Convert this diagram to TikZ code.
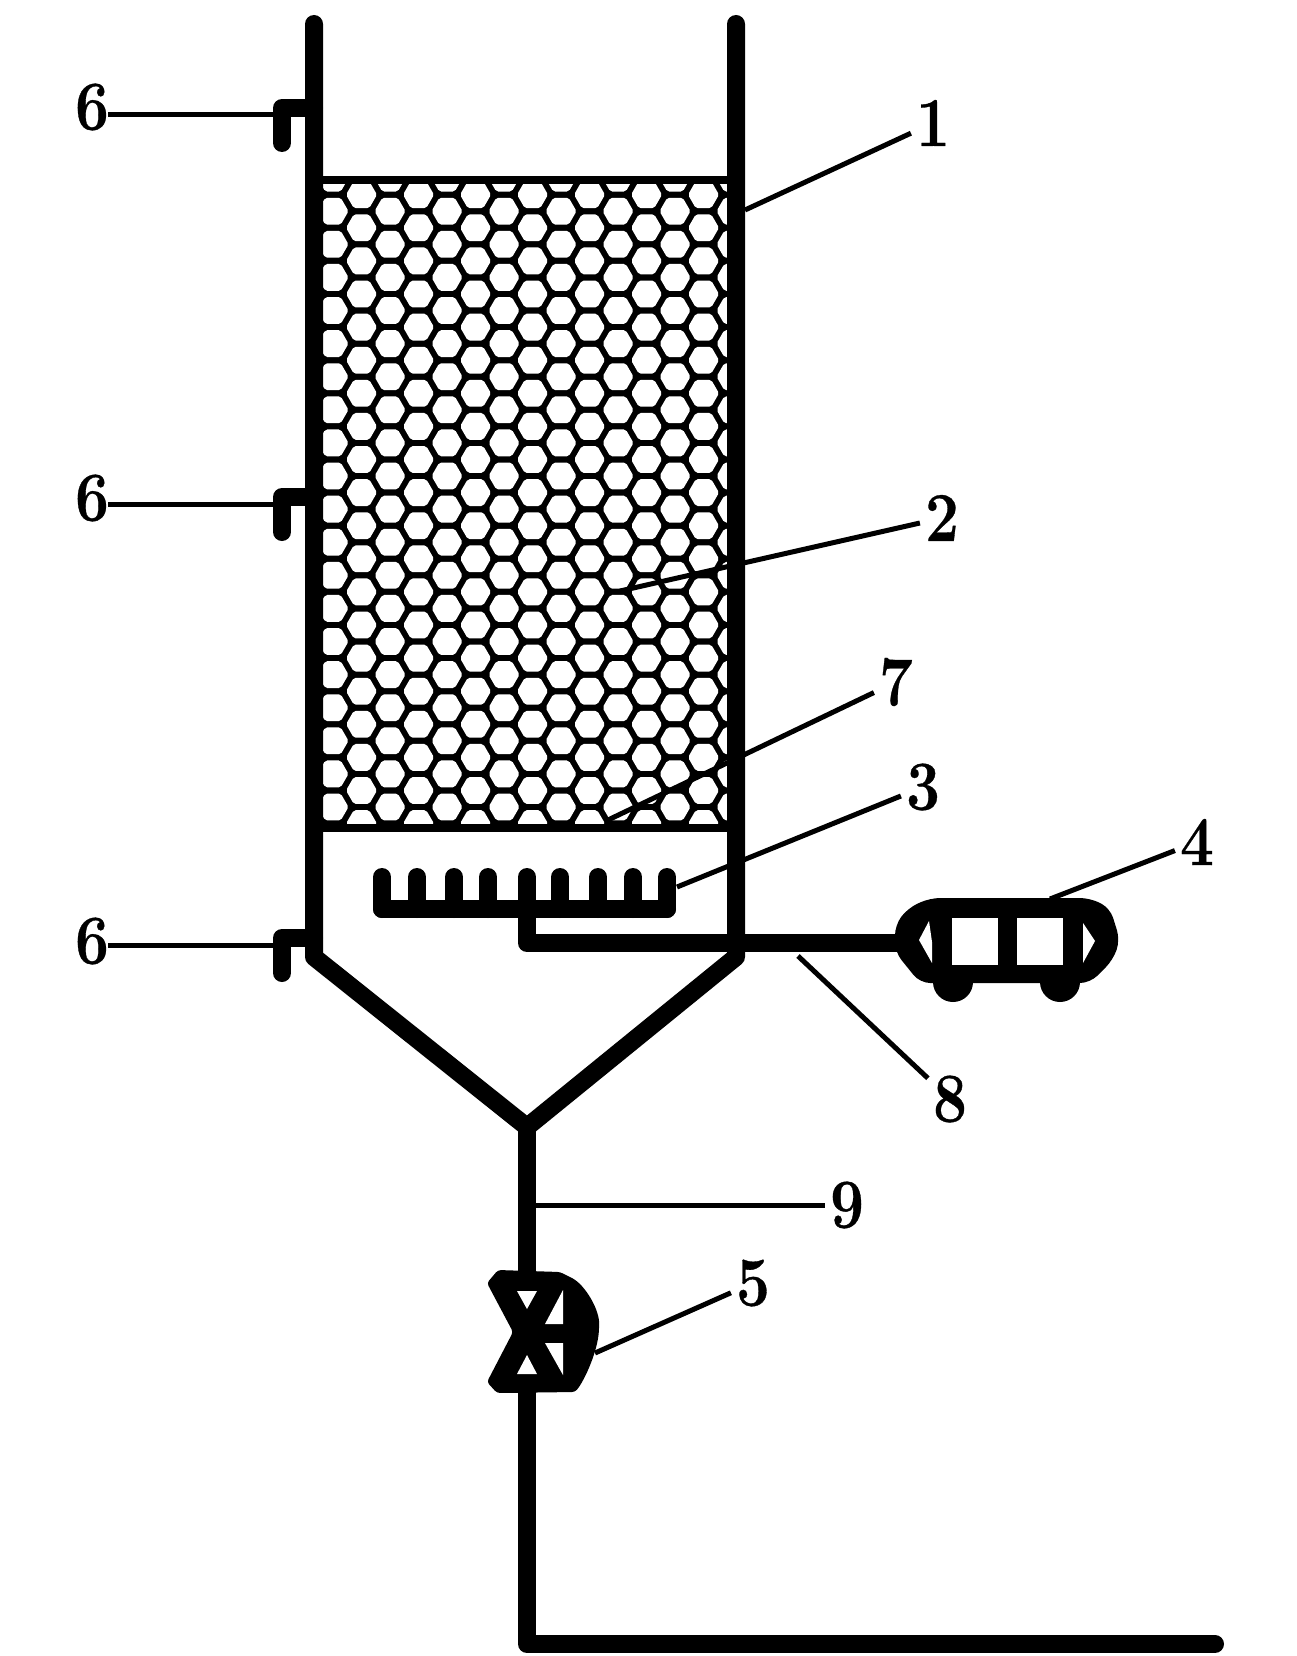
\documentclass[tikz,border=0pt]{standalone}
\usepackage{fontspec}
\newfontfamily\labfont{Latin Modern Roman}[BoldFeatures={FakeBold=0.5}]
\tikzset{
	wall/.style={line width=18pt, line join=round, line cap=round},
	leader/.style={line width=5pt},
	lab/.style={font=\fontsize{70}{70}\labfont\bfseries, inner sep=0pt, outer sep=6pt, xscale=0.86},
	hole/.style={fill=white, rounded corners=2pt},
}
\begin{document}
\begin{tikzpicture}[x=1pt, y=-1pt]
	\useasboundingbox (0,0) rectangle (1296,1656);
	%packed bed
	\fill (314,176) rectangle (736,832);
	\begin{scope}
		\clip (323,185) rectangle (727,823);
		\foreach \k in {0,...,14}{
			\pgfmathsetmacro\colx{333+28.5*\k}
			\pgfmathsetmacro\coly{mod(\k,2)==0 ? 807 : 790.5}
			\foreach \n in {-1,...,19}{
				\pgfmathsetmacro\rowy{\coly-33.1*\n}
				\fill[hole, shift={(\colx,\rowy)}] (0:15.5) -- (60:15.5) -- (120:15.5) -- (180:15.5) -- (240:15.5) -- (300:15.5) -- cycle;
			}
		}
	\end{scope}
	
	%column and outlet
	\draw[wall] (314,24) -- (314,957) -- (527,1127) -- (736,957) -- (736,24);
	\draw[wall] (527,1127) -- (527,1644) -- (1215,1644);
	
	%sampling taps
	\foreach \y in {108, 497, 938}{
		\draw[wall] (314,\y) -- (282,\y) -- (282,\y+35);
	}
	
	%aerator
	\draw[wall] (382,909) -- (667,909);
	\foreach \x in {382, 417, 454, 488, 527, 560, 598, 633, 667}{
		\draw[wall] (\x,877) -- (\x,909);
	}
	\draw[wall] (527,909) -- (527,943) -- (900,943);
	
	%blower
	\fill[rounded corners=10pt] (895,925) -- (908,908) -- (930,898) -- (1090,898) -- (1110,908) -- (1120,940) -- (1113,960) -- (1090,983) -- (920,983) -- (895,952) -- cycle;
	\fill (953,982) circle (20);
	\fill (1060,982) circle (20);
	\fill[white] (952,918) rectangle (998,965);
	\fill[white] (1017,918) rectangle (1063,965);
	\fill[white] (929,921) -- (919,940) -- (932,963) -- (932,942) -- cycle;
	\fill[white] (1083,923) -- (1095,941) -- (1083,963) -- cycle;
	
	%valve
	\fill[rounded corners=3pt] (487,1283) -- (498,1270) -- (560,1272) -- (570,1277) .. controls (585,1285) and (600,1310) .. (599,1328) .. controls (598,1350) and (585,1380) .. (575,1392) -- (497,1393) -- (487,1382) -- (513,1332) -- cycle;
	\fill[white] (517,1291) -- (537,1291) -- (527,1309) -- cycle;
	\fill[white] (517,1374) -- (537,1374) -- (527,1355) -- cycle;
	\fill[white] (545,1324) -- (563,1324) -- (563,1290) -- cycle;
	\fill[white] (545,1343) -- (563,1343) -- (563,1375) -- cycle;
	
	%labels
	\node[lab] (lab1) at (933,123){1};
	\node[lab] (lab2) at (942,518){2};
	\node[lab] (lab3) at (923,787){3};
	\node[lab] (lab4) at (1197,842){4};
	\node[lab] (lab5) at (753,1283){5};
	\node[lab] (lab6a) at (92,107){6};
	\node[lab] (lab6b) at (92,498){6};
	\node[lab] (lab6c) at (92,941){6};
	\node[lab] (lab7) at (896,682){7};
	\node[lab] (lab8) at (950,1099){8};
	\node[lab] (lab9) at (847,1205){9};
	
	%leaders
	\coordinate (foot1) at (745,210);
	\coordinate (foot2) at (620,591);
	\coordinate (foot3) at (677,887);
	\coordinate (foot4) at (1050,899);
	\coordinate (foot5) at (595,1353);
	\coordinate (foot6a) at (275,115);
	\coordinate (foot6b) at (275,504);
	\coordinate (foot6c) at (275,945);
	\coordinate (foot7) at (608,820);
	\coordinate (foot8) at (798,956);
	\coordinate (foot9) at (536,1205);
	\foreach \t in {1, 2, 3, 4, 5, 7, 8, 9}{
		\draw[leader] (foot\t) -- (lab\t);
	}
	\foreach \t in {6a, 6b, 6c}{
		\draw[leader] (foot\t) -- ([xshift=-6pt]foot\t -| lab\t.east);
	}
\end{tikzpicture}
\end{document}
